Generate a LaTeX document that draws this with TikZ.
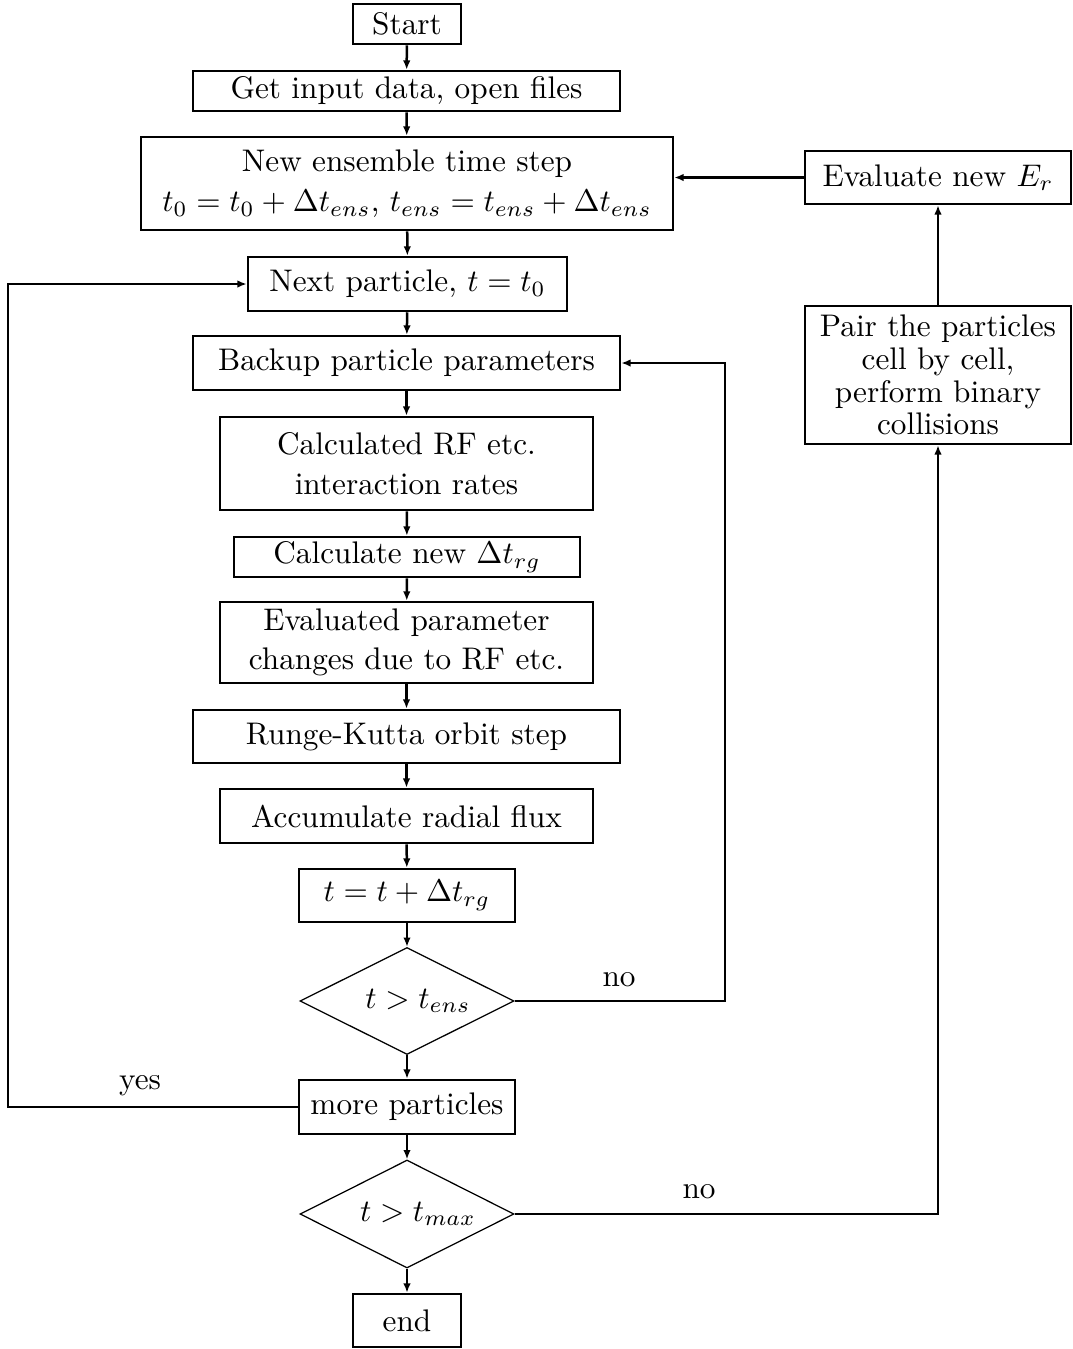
\documentclass[tikz,border=0pt]{standalone}
\usetikzlibrary{shapes.geometric,arrows.meta}
\begin{document}
\begin{tikzpicture}[x=0.32pt,y=-0.32pt,
  box/.style={draw,thick,inner sep=0pt,align=center},
  dec/.style={draw,diamond,inner sep=0pt,shape aspect=2},
  conn/.style={thick,-{Latex[length=3pt,width=2.4pt]}},
  plain/.style={thick},
  lbl/.style={inner sep=0pt}]
\useasboundingbox (0,0) rectangle (1072,1349);
\node[box,minimum width=34.56pt,minimum height=12.8pt] (start) at (407,24) {Start};
\node[box,minimum width=136.64pt,minimum height=12.8pt] (input) at (406.5,91) {Get input data, open files};
\node[box,minimum width=170.24pt,minimum height=29.76pt] (ens) at (407,183.5) {New ensemble time step\\[1pt] $t_0=t_0+\Delta t_{ens}$, $t_{ens}=t_{ens}+\Delta t_{ens}$};
\node[box,minimum width=85.12pt,minimum height=16.96pt] (er) at (938,177.5) {Evaluate new $E_r$};
\node[box,minimum width=102.08pt,minimum height=17.28pt] (next) at (407.5,284) {Next particle, $t=t_0$};
\node[box,minimum width=136.64pt,minimum height=17.28pt] (backup) at (406.5,363) {Backup particle parameters};
\node[box,minimum width=119.36pt,minimum height=29.76pt] (rf) at (406.5,463.5) {Calculated RF etc.\\[1pt] interaction rates};
\node[box,minimum width=110.72pt,minimum height=12.8pt] (dt) at (407,557) {Calculate new $\Delta t_{rg}$};
\node[box,minimum width=119.36pt,minimum height=25.92pt] (par) at (406.5,642.5) {Evaluated parameter\\[0.5pt] changes due to RF etc.};
\node[box,minimum width=136.64pt,minimum height=16.96pt] (rk) at (406.5,736.5) {Runge-Kutta orbit step};
\node[box,minimum width=119.36pt,minimum height=17.28pt] (acc) at (406.5,816) {Accumulate radial flux};
\node[box,minimum width=69.12pt,minimum height=16.96pt] (tt) at (407,895.5) {$t=t+\Delta t_{rg}$};
\node[dec,minimum width=68.48pt,minimum height=34.24pt] (d1) at (407,1001) {\hspace*{7pt}$t>t_{ens}$};
\node[box,minimum width=69.12pt,minimum height=17.28pt] (more) at (407,1107) {more particles};
\node[dec,minimum width=68.48pt,minimum height=34.56pt] (d2) at (407,1214) {\hspace*{7pt}$t>t_{max}$};
\node[box,minimum width=34.56pt,minimum height=16.96pt] (end) at (407,1320.5) {end};
\node[box,minimum width=85.12pt,minimum height=44.16pt] (pair) at (938,375) {Pair the particles\\[-1.5pt] cell by cell,\\[-1.5pt] perform binary\\[-1.5pt] collisions};
\coordinate (cL1) at (8,1107);
\coordinate (cL2) at (8,284);
\coordinate (cR1) at (725,1001);
\coordinate (cR2) at (725,363);
\coordinate (cR3) at (938,1214);
\draw[conn] (start) -- (input);
\draw[conn] (input) -- (ens);
\draw[conn] (ens) -- (next);
\draw[conn] (next) -- (backup);
\draw[conn] (backup) -- (rf);
\draw[conn] (rf) -- (dt);
\draw[conn] (dt) -- (par);
\draw[conn] (par) -- (rk);
\draw[conn] (rk) -- (acc);
\draw[conn] (acc) -- (tt);
\draw[conn] (tt) -- (d1);
\draw[conn] (d1) -- (more);
\draw[conn] (more) -- (d2);
\draw[conn] (d2) -- (end);
\draw[conn] (pair) -- (er);
\draw[conn] (er) -- (ens.east |- er);
\draw[conn] (d1.east) -- (cR1) -- (cR2) -- (backup.east);
\draw[conn] (more.west) -- (cL1) -- (cL2) -- (next.west);
\draw[conn] (d2.east) -- (cR3) -- (pair.south);
\node[lbl] (no1) at (619,980) {no};
\node[lbl] (yes) at (140,1086) {yes};
\node[lbl] (no2) at (699,1192) {no};
\end{tikzpicture}
\end{document}
